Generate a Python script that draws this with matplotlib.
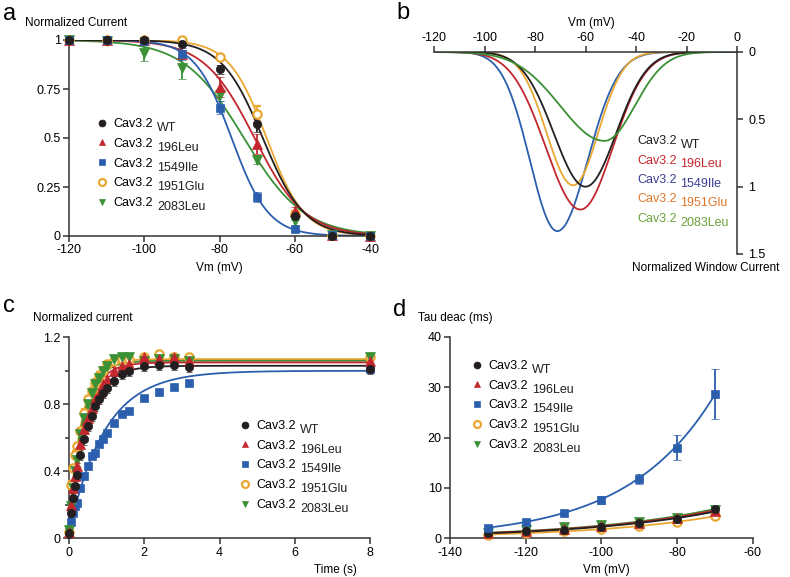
import numpy as np
import matplotlib
matplotlib.use("Agg")
import matplotlib.pyplot as plt
from matplotlib.lines import Line2D

plt.rcParams["font.family"] = ["Liberation Sans", "DejaVu Sans"]
plt.rcParams["axes.unicode_minus"] = False

W, H = 790, 577

variants = ["WT", "196Leu", "1549Ile", "1951Glu", "2083Leu"]
colors = ["#231f20", "#c1272d", "#2b5fad", "#eaa832", "#3a9035"]
text_colors = ["#231f20", "#c8262c", "#3b3e92", "#e0762a", "#6ba03a"]
markers = ["o", "^", "s", "o", "v"]

# panel a: steady-state inactivation
vm_a = [-120, -110, -100, -90, -80, -70, -60, -50, -40]
inact_mean = [
    [1.0, 1.0, 1.0, 0.98, 0.85, 0.57, 0.10, 0.0, 0.0],
    [1.0, 1.0, 1.0, 0.93, 0.76, 0.47, 0.13, 0.005, 0.0],
    [1.0, 1.0, 0.995, 0.93, 0.655, 0.20, 0.035, 0.003, 0.0],
    [1.0, 1.0, 1.0, 1.0, 0.915, 0.62, 0.11, 0.005, 0.0],
    [1.0, 0.995, 0.935, 0.855, 0.72, 0.39, 0.075, 0.005, 0.0],
]
inact_err = [
    [0, 0, 0.005, 0.01, 0.025, 0.04, 0.02, 0, 0],
    [0, 0, 0.005, 0.02, 0.05, 0.05, 0.02, 0, 0],
    [0, 0, 0.005, 0.03, 0.035, 0.025, 0.01, 0, 0],
    [0, 0, 0.005, 0.01, 0.01, 0.045, 0.02, 0, 0],
    [0, 0.005, 0.04, 0.055, 0.03, 0.025, 0.02, 0, 0],
]
# Boltzmann fits: V1/2 and slope
boltz_v50 = [-68.5, -70.7, -76.8, -67.5, -73.5]
boltz_k = [5.5, 6.7, 4.9, 5.0, 8.0]

# panel b: window current (peak position, peak amplitude, left/right width)
win_peak_v = [-60.0, -62.0, -71.2, -64.9, -52.5]
win_peak_amp = [1.00, 1.17, 1.33, 0.99, 0.66]
win_sig_left = [12.5, 13.7, 10.8, 10.5, 17.5]
win_sig_right = [12.1, 12.8, 12.0, 9.9, 12.0]

# panel c: recovery from inactivation
t_c = [0.0, 0.05, 0.1, 0.15, 0.2, 0.3, 0.4, 0.5, 0.6, 0.7, 0.8, 0.9, 1.0,
       1.2, 1.4, 1.6, 2.0, 2.4, 2.8, 3.2, 8.0]
recov_mean = [
    [0.03, 0.15, 0.24, 0.31, 0.38, 0.50, 0.59, 0.67, 0.73, 0.79, 0.83, 0.87, 0.90,
     0.94, 0.98, 1.00, 1.03, 1.035, 1.035, 1.025, 1.01],
    [0.04, 0.20, 0.30, 0.37, 0.43, 0.56, 0.65, 0.72, 0.78, 0.83, 0.87, 0.92, 0.95,
     1.00, 1.03, 1.04, 1.08, 1.07, 1.08, 1.06, 1.06],
    [0.04, 0.10, 0.15, 0.19, 0.21, 0.30, 0.37, 0.43, 0.49, 0.51, 0.56, 0.59, 0.63,
     0.69, 0.74, 0.76, 0.84, 0.875, 0.905, 0.93, 1.01],
    [0.04, 0.32, 0.42, 0.50, 0.55, 0.64, 0.75, 0.83, 0.88, 0.93, 0.97, 1.00, 1.04,
     1.06, 1.07, 1.07, 1.08, 1.10, 1.08, 1.08, 1.08],
    [0.05, 0.19, 0.30, 0.40, 0.47, 0.62, 0.72, 0.80, 0.87, 0.92, 0.96, 1.00, 1.03,
     1.07, 1.08, 1.08, 1.06, 1.07, 1.07, 1.06, 1.08],
]
recov_err = [0.03, 0.02, 0.01, 0.02, 0.02]
# mono-exponential fits: plateau, start value, tau (s)
recov_plateau = [1.03, 1.05, 1.00, 1.07, 1.06]
recov_start = [0.03, 0.04, 0.03, 0.04, 0.05]
recov_tau = [0.45, 0.38, 0.95, 0.33, 0.35]

# panel d: deactivation kinetics
vm_d = [-130, -120, -110, -100, -90, -80, -70]
tau_mean = [
    [1.0, 1.4, 1.6, 2.3, 3.0, 3.9, 5.8],
    [1.1, 1.5, 1.8, 2.4, 3.1, 4.0, 5.5],
    [2.1, 3.2, 5.0, 7.6, 11.7, 18.0, 28.6],
    [0.7, 1.0, 1.4, 1.8, 2.4, 3.2, 4.4],
    [1.0, 1.6, 2.2, 2.7, 3.2, 4.1, 5.6],
]
tau_err = [
    [0.2, 0.2, 0.2, 0.3, 0.3, 0.4, 0.5],
    [0.2, 0.2, 0.2, 0.3, 0.3, 0.4, 0.5],
    [0.3, 0.3, 0.3, 0.7, 1.0, 2.5, 4.9],
    [0.2, 0.2, 0.2, 0.2, 0.3, 0.3, 0.4],
    [0.2, 0.2, 0.2, 0.3, 0.3, 0.4, 0.5],
]
tau_fit_a = [1.0, 1.05, 2.1, 0.75, 1.1]
tau_fit_k = [36.0, 36.0, 23.0, 34.0, 36.0]

TICK_FS = 9
LEG_FS = 9
LABEL_FS = 8.5

subscript_jobs = []  # (text artist, subscript, colour), placed after layout


def fx(x):
    return x / W


def fy(y):
    return 1 - y / H


def axes_px(x0, y_top, x1, y_bot):
    return fig.add_axes([fx(x0), fy(y_bot), fx(x1) - fx(x0), fy(y_top) - fy(y_bot)])


def style(ax):
    for s in ax.spines.values():
        s.set_linewidth(1.1)
        s.set_color("#333333")
    ax.tick_params(direction="out", length=4, width=1.1, color="#333333",
                   labelsize=TICK_FS, pad=2)


def marker_kw(i):
    if i == 3:
        return dict(marker="o", mfc="white", mec=colors[i], mew=1.6, ms=6)
    return dict(marker=markers[i], mfc=colors[i], mec=colors[i], mew=0.5,
                ms=6 if markers[i] in "os" else 6.5)


def marker_legend(ax, x_left, y_top):
    handles = [Line2D([], [], linestyle="none", **marker_kw(i)) for i in range(5)]
    for h in handles:
        h.set_markersize(5)
    leg = ax.legend(handles, ["Cav3.2"] * 5, loc="upper left",
                    bbox_to_anchor=(fx(x_left), fy(y_top)), bbox_transform=fig.transFigure,
                    frameon=False, fontsize=LEG_FS, handlelength=1.0, handletextpad=0.4,
                    borderpad=0, borderaxespad=0, labelspacing=0.62, numpoints=1)
    for t, s in zip(leg.get_texts(), variants):
        subscript_jobs.append((t, s, "#231f20"))
    return leg


fig = plt.figure(figsize=(W / 100, H / 100), dpi=100)

# ---------------- panel a ----------------
ax = axes_px(69, 40, 370, 236)
style(ax)
v = np.linspace(-120, -40, 400)
order = [3, 4, 1, 2, 0]
for i in order:
    ax.plot(v, 1 / (1 + np.exp((v - boltz_v50[i]) / boltz_k[i])), color=colors[i], lw=1.3,
            zorder=2)
for i in order:
    ax.errorbar(vm_a, inact_mean[i], yerr=inact_err[i], linestyle="none", color=colors[i],
                capsize=3, elinewidth=1.3, capthick=1.3, clip_on=False, zorder=3,
                **marker_kw(i))
ax.set_xlim(-120, -40)
ax.set_ylim(0, 1)
ax.set_xticks([-120, -100, -80, -60, -40])
ax.set_yticks([0, 0.25, 0.5, 0.75, 1])
ax.set_yticklabels(["0", "0.25", "0.5", "0.75", "1"])
ax.spines[["top", "right"]].set_visible(False)
ax.set_xlabel("Vm (mV)", fontsize=LABEL_FS, labelpad=4)
marker_legend(ax, 96, 118)
fig.text(fx(25), fy(23), "Normalized Current", fontsize=LABEL_FS, va="center")

# ---------------- panel b ----------------
ax = axes_px(434, 52, 737, 254)
style(ax)
v = np.linspace(-120, 0, 600)
for i in [2, 1, 3, 0, 4]:
    sig = np.where(v < win_peak_v[i], win_sig_left[i], win_sig_right[i])
    ax.plot(v, win_peak_amp[i] * np.exp(-0.5 * ((v - win_peak_v[i]) / sig) ** 2),
            color=colors[i], lw=1.3)
ax.set_xlim(-120, 0)
ax.set_ylim(1.5, 0)
ax.xaxis.tick_top()
ax.yaxis.tick_right()
ax.spines[["bottom", "left"]].set_visible(False)
ax.set_xticks([-120, -100, -80, -60, -40, -20, 0])
ax.set_yticks([0, 0.5, 1, 1.5])
ax.set_yticklabels(["0", "0.5", "1", "1.5"])
ax.tick_params(axis="y", pad=4)
fig.text(fx(591), fy(23), "Vm (mV)", fontsize=LABEL_FS, ha="center", va="center")
fig.text(fx(706), fy(268), "Normalized Window Current", fontsize=LABEL_FS,
         ha="center", va="center")
for j, y in enumerate([141, 160.5, 180, 199.5, 219]):
    t = fig.text(fx(637), fy(y), "Cav3.2", fontsize=LEG_FS, color=text_colors[j],
                 va="center")
    subscript_jobs.append((t, variants[j], text_colors[j]))

# ---------------- panel c ----------------
ax = axes_px(69, 337.3, 370, 538.3)
style(ax)
t = np.linspace(0, 8, 400)
order = [2, 3, 4, 1, 0]
for i in order:
    ax.plot(t, recov_plateau[i] - (recov_plateau[i] - recov_start[i]) * np.exp(-t / recov_tau[i]),
            color=colors[i], lw=1.3, zorder=2)
for i in order:
    ax.errorbar(t_c, recov_mean[i], yerr=recov_err[i], linestyle="none", color=colors[i],
                capsize=2.5, elinewidth=1.2, capthick=1.2, clip_on=False, zorder=3,
                **marker_kw(i))
ax.set_xlim(0, 8)
ax.set_ylim(0, 1.2)
ax.set_xticks([0, 2, 4, 6, 8])
ax.set_yticks([0, 0.4, 0.8, 1.2])
ax.set_yticks([0.2, 0.6, 1.0], minor=True)
ax.tick_params(axis="y", which="minor", length=3, width=1.1, color="#333333")
ax.set_yticklabels(["0", "0.4", "0.8", "1.2"])
ax.spines[["top", "right"]].set_visible(False)
marker_legend(ax, 239, 420)
fig.text(fx(33), fy(318), "Normalized current", fontsize=LABEL_FS, va="center")
fig.text(fx(335), fy(570), "Time (s)", fontsize=LABEL_FS, ha="center", va="center")

# ---------------- panel d ----------------
ax = axes_px(450, 336.7, 752.7, 538.3)
style(ax)
v = np.linspace(-130, -70, 300)
order = [4, 3, 1, 0, 2]
for i in order:
    ax.plot(v, tau_fit_a[i] * np.exp((v + 130) / tau_fit_k[i]), color=colors[i], lw=1.3,
            zorder=2)
for i in order:
    ax.errorbar(vm_d, tau_mean[i], yerr=tau_err[i], linestyle="none", color=colors[i],
                capsize=3, elinewidth=1.3, capthick=1.3, clip_on=False, zorder=3,
                **marker_kw(i))
ax.set_xlim(-140, -60)
ax.set_ylim(0, 40)
ax.set_xticks([-140, -120, -100, -80, -60])
ax.set_yticks([0, 10, 20, 30, 40])
ax.spines[["top", "right"]].set_visible(False)
marker_legend(ax, 471, 360)
fig.text(fx(418), fy(318), "Tau deac (ms)", fontsize=LABEL_FS, va="center")
fig.text(fx(606), fy(570), "Vm (mV)", fontsize=LABEL_FS, ha="center", va="center")

# panel letters
for letter, (x, y) in zip("abcd", [(3, 14), (396, 13), (3, 306), (393, 310)]):
    fig.text(fx(x), fy(y), letter, fontsize=17, va="center")

# subscripts sit a little lower, right after each "Cav3.2"
fig.canvas.draw()
renderer = fig.canvas.get_renderer()
for t, s, c in subscript_jobs:
    bb = t.get_window_extent(renderer)
    fig.text((bb.x1 + 4) / W, (bb.y0 - 4) / H, s, fontsize=LEG_FS, color=c,
             ha="left", va="bottom")

fig.savefig("out.png", dpi=100)
